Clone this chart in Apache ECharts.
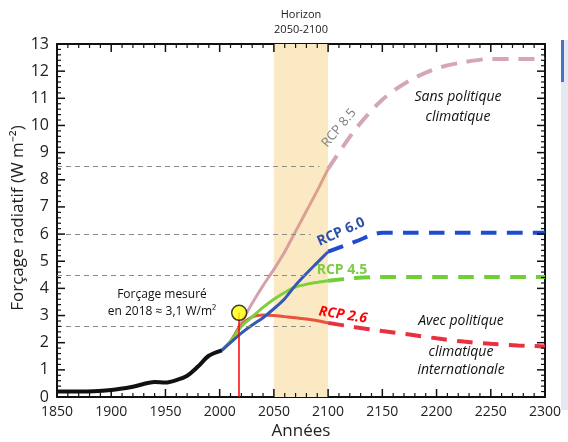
<!DOCTYPE html>
<html>
<head>
<meta charset="utf-8">
<script src="https://cdn.jsdelivr.net/npm/echarts@6/dist/echarts.min.js"></script>
<style>
  html, body { margin: 0; padding: 0; background: #fff; }
  #chart { width: 568px; height: 442px; }
</style>
</head>
<body>
<div id="chart"></div>
<script>
// historique
var yearsHist = [1850, 1870, 1900, 1920, 1940, 1950, 1960, 1970, 1980, 1990, 2002]
var valuesHist = [0.2, 0.2, 0.26, 0.38, 0.55, 0.53, 0.62, 0.78, 1.12, 1.52, 1.72]

// projections (trait plein jusqu'en 2100)
var yearsProj = [2002, 2010, 2020, 2030, 2040, 2050, 2060, 2070, 2080, 2090, 2100]
var rcp85 = [1.72, 2.05, 2.75, 3.45, 4.1, 4.7, 5.35, 6.1, 6.85, 7.6, 8.4]
var rcp60 = [1.72, 2.0, 2.35, 2.65, 2.92, 3.25, 3.62, 4.12, 4.55, 4.95, 5.35]
var rcp45 = [1.72, 2.05, 2.6, 2.95, 3.3, 3.6, 3.85, 4.05, 4.15, 4.22, 4.28]
var rcp26 = [1.72, 2.05, 2.65, 2.95, 3.02, 3.0, 2.96, 2.92, 2.87, 2.81, 2.73]

// extensions (tirets)
var yearsExt = [2100, 2125, 2150, 2175, 2200, 2225, 2250, 2275, 2300]
var rcp85Ext = [8.4, 9.85, 10.95, 11.65, 12.1, 12.33, 12.45, 12.45, 12.45]
var rcp60Ext = [5.35, 5.72, 6.05, 6.05, 6.05, 6.05, 6.05, 6.05, 6.05]
var rcp45Ext = [4.28, 4.38, 4.42, 4.42, 4.42, 4.42, 4.42, 4.42, 4.42]
var rcp26Ext = [2.73, 2.57, 2.43, 2.3, 2.16, 2.04, 1.96, 1.9, 1.86]

var refLevels = [8.5, 6.0, 4.5, 2.6]
var refEnds = [2092, 2084, 2084, 2084]
var measuredYear = 2018
var measuredValue = 3.1

var xMin = 1850, xMax = 2300, yMin = 0, yMax = 13

function pairs(xs, ys) {
  return xs.map(function (x, i) { return [x, ys[i]] })
}

// positions des graduations : [x, y, côté, majeure]
// côté : 0 bas, 1 haut, 2 gauche, 3 droite
function tickData() {
  var out = []
  for (var x = xMin; x <= xMax; x += 10) {
    var maj = x % 50 === 0 ? 1 : 0
    out.push([x, yMin, 0, maj])
    out.push([x, yMax, 1, maj])
  }
  for (var i = 0; i <= 65; i++) {
    var y = +(i * 0.2).toFixed(1)
    var majY = i % 5 === 0 ? 1 : 0
    out.push([xMin, y, 2, majY])
    out.push([xMax, y, 3, majY])
  }
  return out
}

function renderTick(params, api) {
  var p = api.coord([api.value(0), api.value(1)])
  var side = api.value(2)
  var len = api.value(3) ? 8 : 4
  var dx = 0, dy = 0
  if (side === 0) dy = -len
  else if (side === 1) dy = len
  else if (side === 2) dx = len
  else dx = -len
  return {
    type: 'line',
    shape: { x1: p[0], y1: p[1], x2: p[0] + dx, y2: p[1] + dy },
    style: { stroke: '#111', lineWidth: api.value(3) ? 1.5 : 1.2 }
  }
}

var font = 'Open Sans'
var chart = echarts.init(document.getElementById('chart'))

function axis(extra) {
  return Object.assign({
    type: 'value',
    axisLine: { show: true, onZero: false, lineStyle: { color: '#111', width: 2 } },
    axisTick: { show: false },
    splitLine: { show: false }
  }, extra)
}

function solid(name, ys, color, z) {
  return {
    name: name, type: 'line', data: pairs(yearsProj, ys), smooth: 0.3,
    symbol: 'none', z: z,
    lineStyle: { color: color, width: 3 }
  }
}
function dashed(name, ys, color, z) {
  return {
    name: name, type: 'line', data: pairs(yearsExt, ys), smooth: 0.3,
    symbol: 'none', z: z,
    lineStyle: { color: color, width: 4, type: [16, 10] }
  }
}
function label(x, y, text, fontStr, color, rot) {
  return {
    type: 'text', x: x, y: y, z: 100, rotation: (rot || 0) * Math.PI / 180,
    style: { text: text, font: fontStr, fill: color, align: 'center', verticalAlign: 'middle' }
  }
}

var option = {
  backgroundColor: '#fff',
  animation: false,
  grid: { left: 57, right: 23, top: 44, bottom: 45 },
  xAxis: [
    axis({
      min: xMin, max: xMax, interval: 50, position: 'bottom',
      axisLabel: { color: '#222', fontSize: 14, fontFamily: font,
        formatter: function (v) { return String(v) } }
    }),
    axis({ min: xMin, max: xMax, interval: 50, position: 'top', axisLabel: { show: false } })
  ],
  yAxis: [
    axis({
      min: yMin, max: yMax, interval: 1, position: 'left',
      axisLabel: { color: '#222', fontSize: 16, fontFamily: font }
    }),
    axis({ min: yMin, max: yMax, interval: 1, position: 'right', axisLabel: { show: false } })
  ],
  series: [
    {
      name: 'Horizon', type: 'line', data: [], symbol: 'none', z: 0,
      markArea: {
        silent: true,
        itemStyle: { color: '#fbe9c3' },
        data: [[{ xAxis: 2050 }, { xAxis: 2100 }]]
      },
      markLine: {
        silent: true, symbol: 'none',
        label: { show: false },
        lineStyle: { color: '#8a8a8a', type: [5, 4], width: 1.2 },
        data: refLevels.map(function (v, i) {
          return [{ coord: [xMin, v] }, { coord: [refEnds[i], v] }]
        })
      }
    },
    {
      name: 'Graduations', type: 'custom', z: 20, silent: true, clip: false,
      data: tickData(),
      renderItem: renderTick
    },
    {
      name: 'Historique', type: 'line', data: pairs(yearsHist, valuesHist),
      smooth: 0.3, symbol: 'none', z: 5,
      lineStyle: { color: '#111', width: 4 }
    },
    {
      name: 'RCP 8.5', type: 'line', data: pairs(yearsProj, rcp85), smooth: 0.3,
      symbol: 'none', z: 3,
      lineStyle: {
        width: 3,
        color: new echarts.graphic.LinearGradient(0, 0, 1, 0, [
          { offset: 0, color: '#c9a6cf' },
          { offset: 0.45, color: '#d8a0a6' },
          { offset: 1, color: '#dca085' }
        ])
      }
    },
    dashed('RCP 8.5 ext', rcp85Ext, '#d5a6b6', 3),
    solid('RCP 2.6', rcp26, '#e8533f', 4),
    dashed('RCP 2.6 ext', rcp26Ext, '#e83040', 4),
    solid('RCP 4.5', rcp45, '#7dcf3c', 4),
    dashed('RCP 4.5 ext', rcp45Ext, '#6fd035', 4),
    solid('RCP 6.0', rcp60, '#3557b5', 4),
    dashed('RCP 6.0 ext', rcp60Ext, '#1f4bd0', 4),
    {
      name: 'Mesure', type: 'line', data: [], symbol: 'none', z: 6,
      markLine: {
        silent: true, symbol: 'none', label: { show: false },
        lineStyle: { color: '#ff0000', width: 1.5, type: 'solid' },
        data: [[{ coord: [measuredYear, 0] }, { coord: [measuredYear, measuredValue] }]]
      }
    },
    {
      name: 'Forçage 2018', type: 'scatter', z: 7,
      data: [[measuredYear, measuredValue]],
      symbol: 'circle', symbolSize: 15,
      itemStyle: { color: '#ffff00', borderColor: '#111', borderWidth: 1.5 }
    }
  ],
  graphic: [
    label(301, 15, 'Horizon', '11px "Open Sans"', '#222'),
    label(301, 30, '2050-2100', '11px "Open Sans"', '#222'),
    label(301, 431, 'Années', '17px "Open Sans"', '#222'),
    label(18, 218, 'Forçage radiatif (W m⁻²)', '17px "Open Sans"', '#222', 90),
    label(339, 128, 'RCP 8.5', '13px "Open Sans"', '#7f7f7f', 50),
    label(341, 232, 'RCP 6.0', 'bold 14px "Open Sans"', '#2b50a8', 24),
    label(342, 270, 'RCP 4.5', 'bold 14px "Open Sans"', '#7ccc45'),
    label(343, 315, 'RCP 2.6', 'italic bold 14px "Open Sans"', '#ff0000', -9),
    label(458, 97, 'Sans politique', 'italic 14px "Open Sans"', '#111'),
    label(458, 117, 'climatique', 'italic 14px "Open Sans"', '#111'),
    label(461, 321, 'Avec politique', 'italic 14px "Open Sans"', '#111'),
    label(461, 352, 'climatique', 'italic 14px "Open Sans"', '#111'),
    label(461, 370, 'internationale', 'italic 14px "Open Sans"', '#111'),
    label(162, 295, 'Forçage mesuré', '12px "Open Sans"', '#111'),
    label(162, 312, 'en 2018 ≈ 3,1 W/m²', '12px "Open Sans"', '#111'),
    { type: 'rect', z: 100, shape: { x: 561, y: 40, width: 7, height: 370 }, style: { fill: '#e4e8f1' }, silent: true },
    { type: 'rect', z: 100, shape: { x: 561, y: 40, width: 3, height: 42 }, style: { fill: '#4a72c0' }, silent: true }
  ]
}

chart.setOption(option)
</script>
</body>
</html>
